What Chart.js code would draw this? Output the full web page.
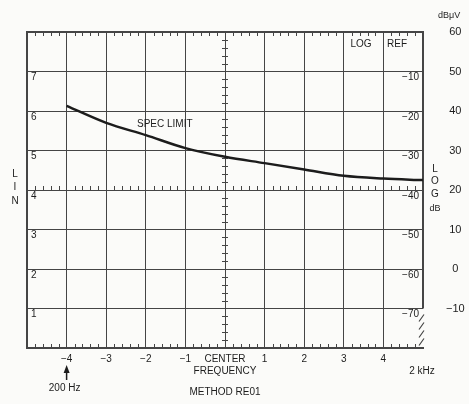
<!DOCTYPE html>
<html>
<head>
<meta charset="utf-8">
<script src="https://cdn.jsdelivr.net/npm/chart.js@4"></script>
<style>
  html, body { margin: 0; padding: 0; background: #fbfbf9; }
  #wrap { width: 469px; height: 404px; }
</style>
</head>
<body>
<div id="wrap"><canvas id="chart"></canvas></div>
<script>
// frequency divisions from centre (x) and the spec limit curve in dBuV
const freqDivs = [-4, -3, -2, -1, 0, 1, 2, 3, 4, 5];
const specLimit = [41.3, 37.0, 33.9, 30.6, 28.4, 26.8, 25.2, 23.6, 22.9, 22.5];

// tick labels
const linLabels = [1, 2, 3, 4, 5, 6, 7];
const logLabels = [-10, -20, -30, -40, -50, -60, -70];
const dbuvLabels = [60, 50, 40, 30, 20, 10, 0, -10];
const freqLabels = [-4, -3, -2, -1, 1, 2, 3, 4];

const ink = "#1c1c1c";
const gridInk = "#454545";
const face = '"Liberation Sans", Arial, sans-serif';

const minus = (v) => String(v).replace("-", "\u2212");

/**
 * graticule details: minor ticks, broken right border, hatch, loose texts
 */
const graticule = {
  id: "graticule",
  beforeDraw(chart) {
    const { ctx, width, height } = chart;
    ctx.save();
    ctx.fillStyle = "#fbfbf9";
    ctx.fillRect(0, 0, width, height);
    ctx.restore();
  },
  beforeDatasetsDraw(chart) {
    const { ctx } = chart;
    const xs = chart.scales.x;
    const ys = chart.scales.lin;
    const top = ys.getPixelForValue(8);
    const bottom = ys.getPixelForValue(0);
    const mid = ys.getPixelForValue(4);
    const cx = xs.getPixelForValue(0);
    const right = xs.getPixelForValue(5);

    ctx.save();
    ctx.strokeStyle = gridInk;
    ctx.lineWidth = 1;
    ctx.beginPath();
    for (let i = 1; i < 50; i++) {
      if (i % 5 === 0) continue;
      const px = Math.round(xs.getPixelForValue(-5 + i * 0.2)) + 0.5;
      ctx.moveTo(px, top); ctx.lineTo(px, top + 4);
      ctx.moveTo(px, mid); ctx.lineTo(px, mid - 4);
      ctx.moveTo(px, bottom); ctx.lineTo(px, bottom - 4);
    }
    for (let i = 1; i < 40; i++) {
      if (i % 5 === 0) continue;
      const py = Math.round(ys.getPixelForValue(i * 0.2)) + 0.5;
      ctx.moveTo(cx - 3, py); ctx.lineTo(cx + 3, py);
    }
    ctx.stroke();

    // right border stops at the -70 line, hatch below
    const cut = ys.getPixelForValue(1);
    ctx.lineWidth = 2;
    ctx.beginPath();
    ctx.moveTo(right, top - 1);
    ctx.lineTo(right, cut);
    ctx.stroke();
    ctx.lineWidth = 1.2;
    ctx.beginPath();
    for (let k = 0; k < 4; k++) {
      const y0 = cut + 6 + k * 8;
      ctx.moveTo(right - 4, y0 + 7);
      ctx.lineTo(right + 1, y0);
    }
    ctx.stroke();
    ctx.restore();
  },
  afterDraw(chart) {
    const { ctx, chartArea } = chart;
    const xs = chart.scales.x;
    const db = chart.scales.db;
    ctx.save();
    ctx.fillStyle = ink;
    ctx.textAlign = "center";
    ctx.textBaseline = "middle";
    ctx.font = `10px ${face}`;

    ctx.fillText("SPEC LIMIT", xs.getPixelForValue(-1.52), db.getPixelForValue(36.7));
    ctx.fillText("LOG", chartArea.right - 62, chartArea.top + 12);
    ctx.fillText("REF", chartArea.right - 26, chartArea.top + 12);

    ["L", "I", "N"].forEach((c, i) => ctx.fillText(c, 15, 174 + i * 13.5));
    ["L", "O", "G"].forEach((c, i) => ctx.fillText(c, 435, 169 + i * 12.5));
    ctx.font = `9px ${face}`;
    ctx.fillText("dB", 435, 209);

    ctx.textAlign = "left";
    ctx.fillText("dB\u03bcV", 438, 16);

    ctx.font = `10px ${face}`;
    ctx.textAlign = "center";
    const ax = xs.getPixelForValue(-4);
    ctx.fillText("200 Hz", ax - 2, 388);
    ctx.fillText("2 kHz", xs.getPixelForValue(5) - 1, 371);

    // arrow pointing up to -4
    ctx.strokeStyle = ink;
    ctx.lineWidth = 1.5;
    ctx.beginPath();
    ctx.moveTo(ax, 380);
    ctx.lineTo(ax, 370);
    ctx.stroke();
    ctx.beginPath();
    ctx.moveTo(ax, 365);
    ctx.lineTo(ax - 3, 373);
    ctx.lineTo(ax + 3, 373);
    ctx.closePath();
    ctx.fill();
    ctx.restore();
  },
};

new Chart(document.getElementById("chart"), {
  type: "line",
  data: {
    datasets: [
      {
        label: "SPEC LIMIT",
        data: freqDivs.map((f, i) => ({ x: f, y: specLimit[i] })),
        yAxisID: "db",
        borderColor: "#1c1c1c",
        borderWidth: 2.5,
        pointRadius: 0,
        cubicInterpolationMode: "monotone",
      },
    ],
  },
  options: {
    responsive: true,
    maintainAspectRatio: false,
    animation: false,
    layout: { padding: { top: 32, left: 0, right: 0, bottom: 0 } },
    plugins: { legend: { display: false }, tooltip: { enabled: false } },
    scales: {
      x: {
        type: "linear",
        min: -5,
        max: 5,
        afterBuildTicks: (s) => {
          s.ticks = [-5, -4, -3, -2, -1, 0, 1, 2, 3, 4, 5].map((v) => ({ value: v }));
        },
        afterFit: (s) => { s.height = 56; },
        grid: {
          color: (c) => (c.tick && c.tick.value === 5 ? "rgba(0,0,0,0)" : gridInk),
          lineWidth: 1,
          drawTicks: false,
        },
        border: { color: gridInk, width: 2 },
        ticks: {
          autoSkip: false,
          maxRotation: 0,
          padding: 5,
          color: ink,
          font: { family: face, size: 10 },
          callback: (v) => {
            if (v === 0) return ["CENTER", "FREQUENCY"];
            return freqLabels.includes(v) ? minus(v) : "";
          },
        },
        title: {
          display: true,
          text: "METHOD RE01",
          color: ink,
          font: { family: face, size: 10 },
          padding: { top: 0, bottom: 6 },
        },
      },
      lin: {
        position: "left",
        min: 0,
        max: 8,
        afterBuildTicks: (s) => {
          s.ticks = [0, 1, 2, 3, 4, 5, 6, 7, 8].map((v) => ({ value: v }));
        },
        afterFit: (s) => { s.width = 27; },
        grid: {
          color: gridInk,
          lineWidth: (c) => (c.tick && c.tick.value === 8 ? 2 : 1),
          drawTicks: false,
        },
        border: { color: gridInk, width: 2 },
        ticks: {
          mirror: true,
          padding: 4,
          labelOffset: 6,
          color: ink,
          font: { family: face, size: 10 },
          callback: (v) => (linLabels.includes(v) ? v : ""),
        },
      },
      log: {
        position: "right",
        weight: 0,
        min: -80,
        max: 0,
        afterBuildTicks: (s) => {
          s.ticks = [-80, -70, -60, -50, -40, -30, -20, -10, 0].map((v) => ({ value: v }));
        },
        afterFit: (s) => { s.width = 0; },
        grid: { display: false },
        border: { display: false },
        ticks: {
          mirror: true,
          padding: -4,
          labelOffset: 6,
          color: ink,
          font: { family: face, size: 10 },
          callback: (v) => (logLabels.includes(v) ? minus(v) : ""),
        },
      },
      db: {
        position: "right",
        weight: 1,
        min: -20,
        max: 60,
        afterBuildTicks: (s) => {
          s.ticks = [-20, -10, 0, 10, 20, 30, 40, 50, 60].map((v) => ({ value: v }));
        },
        afterFit: (s) => { s.width = 46; },
        grid: { display: false },
        border: { display: false },
        ticks: {
          crossAlign: "center",
          padding: 15,
          color: ink,
          font: { family: face, size: 11 },
          callback: (v) => (dbuvLabels.includes(v) ? minus(v) : ""),
        },
      },
    },
  },
  plugins: [graticule],
});
</script>
</body>
</html>
